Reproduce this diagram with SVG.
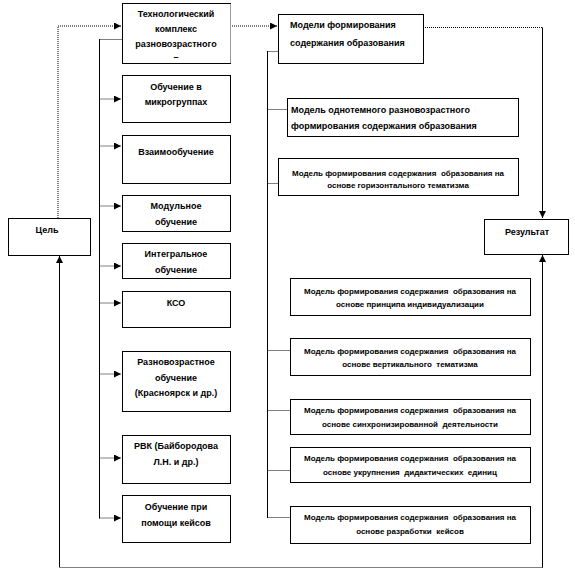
<svg xmlns="http://www.w3.org/2000/svg" width="575" height="579" viewBox="0 0 575 579">
<defs>
<marker id="ah" markerWidth="7" markerHeight="7" refX="7" refY="3.5" orient="auto" markerUnits="userSpaceOnUse">
<path d="M0,0 L7,3.5 L0,7 Z" fill="#000"/>
</marker>
</defs>
<style>
.box{fill:#fff;stroke:#000;stroke-width:1}
.sh{stroke:#000;stroke-width:1;stroke-dasharray:1 1;fill:none}
.rs{stroke:#999;stroke-width:1;fill:none}
.t{font-family:"Liberation Sans",Arial,sans-serif;font-weight:bold;font-size:9px;fill:#000;text-anchor:middle}
.tl{font-family:"Liberation Sans",Arial,sans-serif;font-weight:bold;font-size:9px;fill:#000}
.ts{font-family:"Liberation Sans",Arial,sans-serif;font-weight:bold;font-size:8px;fill:#000;text-anchor:middle;white-space:pre}
.dot{stroke:#000;stroke-width:1;stroke-dasharray:1 1;fill:none}
.sol{stroke:#000;stroke-width:1;fill:none}
</style>
<rect width="575" height="579" fill="#fff"/>

<g id="connectors">
<polyline class="dot" points="58,218 58,26 121,26" marker-end="url(#ah)"/>
<line class="dot" x1="99.5" y1="39.5" x2="122" y2="39.5"/>
<line class="sol" x1="99.5" y1="39" x2="99.5" y2="518.5"/>
<line class="dot" x1="99.5" y1="99" x2="121" y2="99" marker-end="url(#ah)"/>
<line class="dot" x1="99.5" y1="146" x2="121" y2="146" marker-end="url(#ah)"/>
<line class="dot" x1="99.5" y1="206" x2="121" y2="206" marker-end="url(#ah)"/>
<line class="dot" x1="99.5" y1="266" x2="121" y2="266" marker-end="url(#ah)"/>
<line class="dot" x1="99.5" y1="303" x2="121" y2="303" marker-end="url(#ah)"/>
<line class="dot" x1="99.5" y1="374" x2="121" y2="374" marker-end="url(#ah)"/>
<line class="dot" x1="99.5" y1="458" x2="121" y2="458" marker-end="url(#ah)"/>
<line class="dot" x1="99.5" y1="518" x2="121" y2="518" marker-end="url(#ah)"/>
<line class="dot" x1="230" y1="26" x2="277" y2="26" marker-end="url(#ah)"/>
<line class="sol" x1="267.5" y1="51" x2="267.5" y2="518"/>
<line class="dot" x1="267.5" y1="51.5" x2="278" y2="51.5"/>
<line class="dot" x1="267.5" y1="109.5" x2="287" y2="109.5"/>
<line class="dot" x1="267.5" y1="183.5" x2="278" y2="183.5"/>
<line class="dot" x1="267.5" y1="350.5" x2="290" y2="350.5"/>
<line class="dot" x1="267.5" y1="410.5" x2="290" y2="410.5"/>
<line class="dot" x1="267.5" y1="470.5" x2="290" y2="470.5"/>
<line class="dot" x1="267.5" y1="517.5" x2="290" y2="517.5"/>
<polyline class="dot" points="423,27.5 542.5,27.5"/>
<line class="sol" x1="542.5" y1="27.5" x2="542.5" y2="218" marker-end="url(#ah)"/>
<line class="sol" x1="59.5" y1="567" x2="59.5" y2="256" marker-end="url(#ah)"/>
<line class="dot" x1="59.5" y1="567.5" x2="542.5" y2="567.5"/>
<line class="sol" x1="542.5" y1="567.5" x2="542.5" y2="255" marker-end="url(#ah)"/>
</g>

<g id="n-tsel">
<rect x="8.5" y="218.5" width="82" height="37" class="box"/>
<text x="47" y="233" class="t">Цель</text>
</g>

<g id="n-l1">
<rect x="122.5" y="3.5" width="108" height="60" class="box"/>
<line x1="230.5" y1="4" x2="230.5" y2="63" class="rs"/>
<line x1="122" y1="63.5" x2="231" y2="63.5" class="sh"/>
<text x="176" y="17" class="t">Технологический</text>
<text x="176" y="32" class="t">комплекс</text>
<text x="176" y="47" class="t">разновозрастного</text>
<text x="176" y="60" class="t">–</text>
</g>
<g id="n-l2">
<rect x="122.5" y="75.5" width="108" height="47" class="box"/>
<line x1="122" y1="122.5" x2="231" y2="122.5" class="sh"/>
<text x="176" y="90" class="t">Обучение в</text>
<text x="176" y="105" class="t">микрогруппах</text>
</g>
<g id="n-l3">
<rect x="122.5" y="135.5" width="108" height="48" class="box"/>
<line x1="122" y1="183.5" x2="231" y2="183.5" class="sh"/>
<text x="176" y="155" class="t">Взаимообучение</text>
</g>
<g id="n-l4">
<rect x="122.5" y="195.5" width="108" height="36" class="box"/>
<line x1="122" y1="231.5" x2="231" y2="231.5" class="sh"/>
<text x="176" y="209" class="t">Модульное</text>
<text x="176" y="225" class="t">обучение</text>
</g>
<g id="n-l5">
<rect x="122.5" y="243.5" width="108" height="35" class="box"/>
<line x1="122" y1="278.5" x2="231" y2="278.5" class="sh"/>
<text x="176" y="257" class="t">Интегральное</text>
<text x="176" y="273" class="t">обучение</text>
</g>
<g id="n-l6">
<rect x="122.5" y="291.5" width="108" height="36" class="box"/>
<line x1="122" y1="327.5" x2="231" y2="327.5" class="sh"/>
<text x="176" y="306" class="t">КСО</text>
</g>
<g id="n-l7">
<rect x="122.5" y="351.5" width="108" height="60" class="box"/>
<line x1="122" y1="411.5" x2="231" y2="411.5" class="sh"/>
<text x="176" y="365" class="t">Разновозрастное</text>
<text x="176" y="381" class="t">обучение</text>
<text x="176" y="396" class="t">(Красноярск и др.)</text>
</g>
<g id="n-l8">
<rect x="122.5" y="435.5" width="108" height="48" class="box"/>
<line x1="122" y1="483.5" x2="231" y2="483.5" class="sh"/>
<text x="176" y="449" class="t">РВК (Байбородова</text>
<text x="176" y="465" class="t">Л.Н. и др.)</text>
</g>
<g id="n-l9">
<rect x="122.5" y="495.5" width="108" height="47" class="box"/>
<line x1="122" y1="542.5" x2="231" y2="542.5" class="sh"/>
<text x="176" y="510" class="t">Обучение при</text>
<text x="176" y="526" class="t">помощи кейсов</text>
</g>

<g id="n-r1">
<rect x="278.5" y="14.5" width="145" height="49" class="box"/>
<line x1="278" y1="63.5" x2="424" y2="63.5" class="sh"/>
<text x="290" y="28" class="tl">Модели формирования</text>
<text x="290" y="46" class="tl">содержания образования</text>
</g>
<g id="n-r2">
<rect x="287.5" y="98.5" width="231" height="38" class="box"/>
<line x1="287" y1="136.5" x2="519" y2="136.5" class="sh"/>
<text x="291" y="113" class="tl">Модель однотемного разновозрастного</text>
<text x="291" y="129" class="tl">формирования содержания образования</text>
</g>
<g id="n-r3">
<rect x="278.5" y="158.5" width="240" height="37" class="box"/>
<line x1="278" y1="195.5" x2="519" y2="195.5" class="sh"/>
<text x="398" y="176" class="ts">Модель формирования содержания  образования на</text>
<text x="398" y="188" class="ts">основе горизонтального тематизма</text>
</g>
<g id="n-r4">
<rect x="290.5" y="278.5" width="240" height="37" class="box"/>
<line x1="290" y1="315.5" x2="531" y2="315.5" class="sh"/>
<text x="410" y="294" class="ts">Модель формирования содержания  образования на</text>
<text x="410" y="307" class="ts">основе принципа индивидуализации</text>
</g>
<g id="n-r5">
<rect x="290.5" y="338.5" width="240" height="37" class="box"/>
<line x1="290" y1="375.5" x2="531" y2="375.5" class="sh"/>
<text x="410" y="354" class="ts">Модель формирования содержания  образования на</text>
<text x="410" y="367" class="ts">основе вертикального  тематизма</text>
</g>
<g id="n-r6">
<rect x="290.5" y="399.5" width="240" height="35" class="box"/>
<line x1="290" y1="434.5" x2="531" y2="434.5" class="sh"/>
<text x="410" y="413" class="ts">Модель формирования содержания  образования на</text>
<text x="410" y="427" class="ts">основе синхронизированной  деятельности</text>
</g>
<g id="n-r7">
<rect x="290.5" y="447.5" width="240" height="35" class="box"/>
<line x1="290" y1="482.5" x2="531" y2="482.5" class="sh"/>
<text x="410" y="461" class="ts">Модель формирования содержания  образования на</text>
<text x="410" y="475" class="ts">основе укрупнения  дидактических  единиц</text>
</g>
<g id="n-r8">
<rect x="290.5" y="506.5" width="240" height="37" class="box"/>
<line x1="290" y1="543.5" x2="531" y2="543.5" class="sh"/>
<text x="410" y="520" class="ts">Модель формирования содержания  образования на</text>
<text x="410" y="534" class="ts">основе разработки  кейсов</text>
</g>

<g id="n-result">
<rect x="484.5" y="219.5" width="84" height="35" class="box"/>
<text x="527" y="235" class="t">Результат</text>
</g>
</svg>
